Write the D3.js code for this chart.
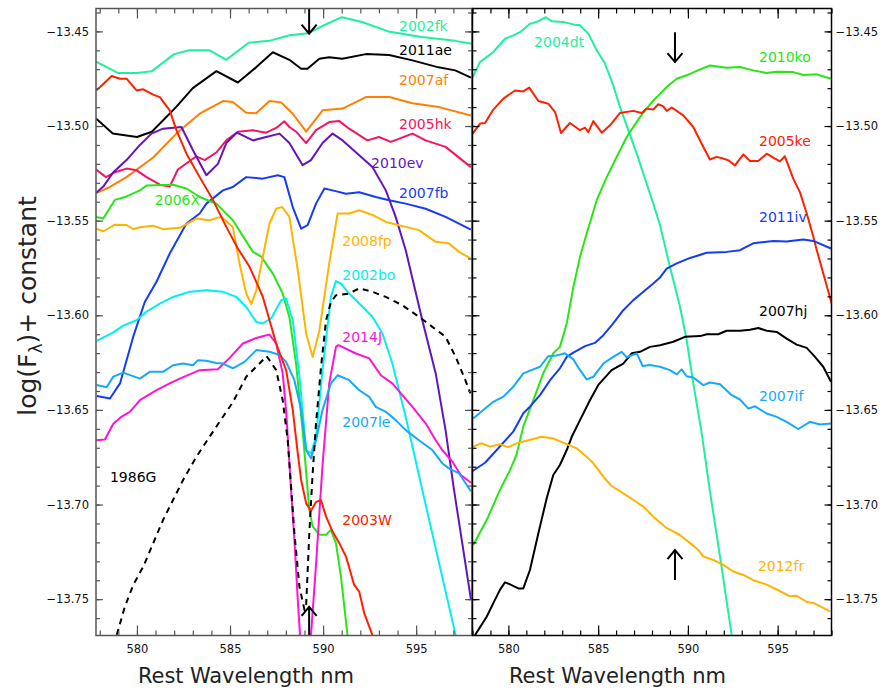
<!DOCTYPE html>
<html>
<head>
<meta charset="utf-8">
<script src="https://cdn.jsdelivr.net/npm/d3@7"></script>
<style>
  body { margin: 0; background: #fff; }
  text { font-family: "DejaVu Sans", sans-serif; }
</style>
</head>
<body>
<svg id="chart" width="881" height="689"></svg>
<script>

// spectra: [rest wavelength nm, log(F) + constant]
// left panel
var sn2002fk = [[577.8,-13.466],[579,-13.472],[580,-13.472],[580.8,-13.471],[582,-13.462],[582.8,-13.460],[583.9,-13.460],[584.8,-13.465],[586,-13.456],[587.1,-13.455],[588.2,-13.452],[589.2,-13.451],[590,-13.447],[591,-13.4425],[592.1,-13.445],[593.5,-13.450],[595.3,-13.453],[597.1,-13.455],[598,-13.4565]];
var sn2011ae = [[577.8,-13.496],[578.7,-13.504],[580,-13.5058],[580.8,-13.503],[582.1,-13.490],[583,-13.480],[584.27,-13.471],[585.42,-13.477],[586.4,-13.469],[587.3,-13.461],[588.19,-13.465],[588.82,-13.4697],[589.16,-13.4697],[589.8,-13.4645],[590.33,-13.4637],[591.03,-13.4645],[592.3,-13.462],[593.55,-13.4625],[594.8,-13.4653],[596.2,-13.469],[597.1,-13.4706],[597.94,-13.4744]];
var sn2007af = [[577.8,-13.5354],[578.55,-13.5322],[579.44,-13.527],[580.87,-13.5166],[582.12,-13.504],[583.37,-13.4935],[584.62,-13.4868],[585.15,-13.4873],[585.87,-13.493],[586.4,-13.4932],[587.12,-13.4868],[587.75,-13.4875],[588.37,-13.4935],[589.09,-13.503],[589.97,-13.4917],[591.05,-13.4908],[592.3,-13.4847],[593.55,-13.4847],[594.8,-13.488],[596.23,-13.490],[597.94,-13.4944]];
var sn2005hk = [[577.8,-13.523],[578.34,-13.527],[578.82,-13.5244],[579.44,-13.5225],[579.98,-13.5234],[580.52,-13.527],[581.23,-13.531],[581.76,-13.532],[582.2,-13.523],[583.19,-13.516],[583.64,-13.518],[584.26,-13.514],[584.8,-13.5076],[585.42,-13.503],[586.23,-13.5022],[586.94,-13.5035],[587.48,-13.501],[587.92,-13.4975],[588.19,-13.5005],[588.55,-13.503],[589.09,-13.509],[589.62,-13.5022],[590.33,-13.4979],[590.87,-13.4974],[591.4,-13.5014],[592.38,-13.5076],[593,-13.5058],[593.64,-13.5084],[594.8,-13.504],[595.51,-13.5076],[596.58,-13.511],[597.94,-13.5217]];
var sn2010ev = [[577.8,-13.5354],[578.19,-13.532],[578.73,-13.5244],[579.44,-13.518],[580.16,-13.510],[580.78,-13.504],[581.4,-13.5014],[582.39,-13.5005],[583.01,-13.5128],[583.73,-13.526],[584.35,-13.520],[584.8,-13.509],[585.37,-13.5035],[586.23,-13.5076],[586.94,-13.5058],[587.66,-13.504],[588.19,-13.509],[588.9,-13.5207],[589.35,-13.518],[589.97,-13.509],[590.51,-13.504],[591.05,-13.5076],[591.94,-13.5155],[592.65,-13.5217],[593.37,-13.534],[593.9,-13.548],[594.44,-13.5656],[595.33,-13.6026],[596.05,-13.6307],[596.58,-13.6607],[597.03,-13.692],[597.94,-13.750]];
var sn2007fb = [[577.84,-13.6427],[578.55,-13.644],[579.09,-13.636],[579.8,-13.6113],[580.42,-13.593],[581.05,-13.5823],[581.76,-13.5674],[582.66,-13.5515],[583.37,-13.5462],[583.73,-13.541],[584.62,-13.534],[585.15,-13.5322],[585.87,-13.527],[586.76,-13.5278],[587.56,-13.526],[587.92,-13.527],[588.37,-13.5428],[588.82,-13.5542],[589.17,-13.5524],[589.62,-13.541],[590.07,-13.533],[590.51,-13.534],[591.23,-13.5358],[591.94,-13.535],[592.83,-13.5375],[593.55,-13.5392],[594.44,-13.541],[595.51,-13.5437],[596.58,-13.548],[597.94,-13.5547]];
var sn2006X = [[577.8,-13.548],[578.19,-13.5489],[578.82,-13.539],[579.44,-13.5372],[580.16,-13.534],[580.52,-13.5314],[581.94,-13.531],[582.66,-13.533],[583.37,-13.5375],[584.26,-13.541],[585.15,-13.5498],[586.23,-13.5665],[586.68,-13.569],[587.3,-13.578],[587.83,-13.5885],[588.19,-13.601],[588.55,-13.6257],[588.9,-13.6607],[589.26,-13.7028],[589.44,-13.7116],[589.8,-13.716],[590.16,-13.716],[590.42,-13.7134],[590.69,-13.7204],[590.96,-13.738],[591.31,-13.769]];
var sn2008fp = [[577.8,-13.5542],[578.19,-13.5556],[578.82,-13.5521],[579.44,-13.5523],[579.8,-13.5545],[580.16,-13.5535],[580.87,-13.5527],[581.4,-13.5545],[582.3,-13.5538],[583.19,-13.5489],[583.9,-13.5498],[584.53,-13.548],[585.15,-13.5533],[585.51,-13.5726],[585.87,-13.5885],[586.14,-13.5941],[586.41,-13.5868],[586.76,-13.5692],[587.12,-13.5515],[587.48,-13.5437],[587.8,-13.5428],[588.19,-13.548],[588.64,-13.5762],[589.09,-13.6096],[589.44,-13.622],[589.8,-13.608],[590.33,-13.5726],[590.78,-13.5462],[591.4,-13.5462],[591.94,-13.5445],[592.65,-13.547],[593.37,-13.5507],[594.44,-13.5533],[595.15,-13.555],[596.05,-13.5612],[596.76,-13.562],[597.3,-13.5665],[597.94,-13.570]];
var sn2002bo = [[577.84,-13.6135],[578.73,-13.609],[579.26,-13.6055],[579.98,-13.6026],[580.52,-13.598],[581.23,-13.5938],[581.94,-13.5903],[582.83,-13.5876],[583.73,-13.5868],[584.62,-13.5876],[585.34,-13.5903],[585.87,-13.5956],[586.41,-13.6035],[586.76,-13.6043],[587.21,-13.6017],[587.75,-13.592],[588.01,-13.5911],[588.37,-13.6026],[588.73,-13.6324],[589.09,-13.6712],[589.35,-13.673],[589.62,-13.6642],[589.97,-13.629],[590.42,-13.5903],[590.69,-13.5819],[590.96,-13.5833],[591.4,-13.5885],[591.94,-13.5938],[592.65,-13.6008],[593.19,-13.6096],[593.72,-13.6255],[594.44,-13.6537],[595.33,-13.6923],[597.12,-13.769]];
var sn2014J = [[577.8,-13.666],[578.28,-13.6656],[578.73,-13.6573],[579.18,-13.6535],[579.62,-13.651],[580.16,-13.6448],[581.05,-13.6395],[581.76,-13.636],[582.3,-13.6335],[583.37,-13.629],[584.35,-13.6285],[584.98,-13.6225],[585.69,-13.6149],[586.41,-13.612],[587.12,-13.6102],[587.48,-13.6149],[587.83,-13.6307],[588.01,-13.650],[588.28,-13.6923],[588.46,-13.7187],[588.64,-13.7503],[588.76,-13.769],[589.05,-13.795],[589.35,-13.769],[589.62,-13.7318],[589.97,-13.6791],[590.33,-13.636],[590.69,-13.6167],[590.83,-13.6158],[591.76,-13.6202],[592.48,-13.6228],[593.1,-13.6317],[593.72,-13.636],[594.8,-13.6484],[595.51,-13.6571],[596.05,-13.666],[596.41,-13.6713],[596.94,-13.6773],[597.39,-13.6843],[597.94,-13.6885]];
var sn2007le = [[577.84,-13.6368],[578.37,-13.638],[578.73,-13.6324],[579.26,-13.6303],[580.16,-13.6335],[580.69,-13.6299],[581.4,-13.6299],[581.94,-13.6264],[582.48,-13.6255],[583.01,-13.6264],[583.28,-13.6237],[583.73,-13.624],[584.26,-13.6252],[584.62,-13.6255],[585.15,-13.628],[585.78,-13.6246],[586.41,-13.6184],[587.12,-13.6193],[587.66,-13.621],[588.01,-13.6246],[588.46,-13.6343],[588.82,-13.65],[589.09,-13.6712],[589.35,-13.6756],[589.62,-13.666],[589.97,-13.65],[590.42,-13.636],[590.78,-13.6317],[591.4,-13.6343],[591.94,-13.6396],[592.48,-13.6431],[592.83,-13.6484],[593.37,-13.651],[593.9,-13.6554],[594.44,-13.6607],[595.15,-13.666],[595.87,-13.6712],[596.41,-13.6783],[596.76,-13.6809],[597.3,-13.6835],[597.94,-13.693]];
var sn2003W = [[577.8,-13.4812],[578.11,-13.4786],[578.64,-13.4736],[579.09,-13.475],[579.44,-13.475],[579.98,-13.4812],[580.34,-13.4806],[580.87,-13.4834],[581.23,-13.4847],[581.76,-13.4917],[582.12,-13.5022],[582.66,-13.5146],[583.37,-13.527],[584.08,-13.539],[584.8,-13.5533],[585.42,-13.5647],[586.05,-13.5744],[586.76,-13.5902],[587.48,-13.6149],[588.01,-13.6288],[588.37,-13.65],[588.64,-13.673],[588.82,-13.687],[589.09,-13.6994],[589.35,-13.7033],[589.62,-13.6986],[589.89,-13.6977],[590.16,-13.7064],[590.51,-13.7143],[590.87,-13.7204],[591.23,-13.7275],[591.67,-13.7425],[591.94,-13.746],[592.21,-13.7574],[592.65,-13.769]];
var sn1986G = [[578.6,-13.780],[578.91,-13.769],[579.35,-13.754],[579.8,-13.7425],[580.34,-13.7328],[580.87,-13.7205],[581.4,-13.7082],[581.94,-13.6976],[582.48,-13.687],[583.19,-13.6748],[583.9,-13.6642],[584.62,-13.6536],[585.15,-13.646],[585.87,-13.6325],[586.58,-13.6255],[586.97,-13.6216],[587.48,-13.629],[587.83,-13.6448],[588.1,-13.666],[588.28,-13.6906],[588.46,-13.7152],[588.73,-13.7434],[589,-13.7557],[589.09,-13.753],[589.26,-13.7152],[589.44,-13.6835],[589.62,-13.657],[589.89,-13.6272],[590.16,-13.6026],[590.42,-13.593],[590.69,-13.5894],[591.4,-13.5885],[591.94,-13.5858],[592.65,-13.5876],[593.37,-13.5903],[594.26,-13.5947],[595.15,-13.6008],[595.87,-13.6061],[596.58,-13.6114],[597.12,-13.622],[597.57,-13.6325],[597.92,-13.6413]];

// right panel
var sn2004dt = [[578.01,-13.4741],[578.42,-13.4662],[578.79,-13.4636],[579.16,-13.4609],[579.81,-13.4539],[580.27,-13.4521],[580.65,-13.4504],[581.2,-13.446],[581.67,-13.4446],[582.09,-13.4425],[582.41,-13.4446],[583.06,-13.445],[583.62,-13.4463],[583.99,-13.4468],[584.45,-13.4512],[584.92,-13.46],[585.38,-13.467],[585.84,-13.4785],[586.22,-13.49],[586.68,-13.5022],[587.15,-13.5146],[587.7,-13.5304],[588.07,-13.541],[588.45,-13.5524],[589,-13.5744],[589.56,-13.5955],[589.93,-13.613],[590.3,-13.636],[590.77,-13.6624],[591.23,-13.6932],[591.79,-13.7275],[592.44,-13.769]];
var sn2010ko = [[578.04,-13.7214],[578.79,-13.7082],[579.53,-13.6923],[580.09,-13.6818],[580.46,-13.6735],[580.83,-13.6587],[581.39,-13.6448],[581.94,-13.6307],[582.5,-13.6201],[582.87,-13.6167],[583.25,-13.6043],[583.62,-13.585],[583.99,-13.5691],[584.36,-13.5568],[584.92,-13.5392],[585.48,-13.527],[586.03,-13.5164],[586.59,-13.5058],[587.33,-13.4953],[588.07,-13.4865],[588.45,-13.483],[588.82,-13.4794],[589.38,-13.475],[589.93,-13.4732],[590.49,-13.4709],[591.23,-13.468],[592.16,-13.4692],[592.9,-13.4688],[593.64,-13.4706],[594.39,-13.472],[594.95,-13.4713],[595.87,-13.4715],[596.43,-13.473],[597.18,-13.4727],[597.97,-13.475]];
var sn2005ke = [[578.01,-13.504],[578.42,-13.4987],[578.7,-13.4984],[579.16,-13.4913],[579.72,-13.4855],[580.37,-13.4812],[580.83,-13.4817],[581.16,-13.4797],[581.67,-13.4868],[582.22,-13.4882],[582.6,-13.4926],[582.93,-13.5037],[583.43,-13.4984],[583.99,-13.5022],[584.27,-13.5008],[584.45,-13.5032],[584.73,-13.4974],[585.2,-13.5035],[585.66,-13.4996],[586.22,-13.4931],[586.96,-13.492],[587.43,-13.4931],[587.7,-13.4908],[588.07,-13.4913],[588.35,-13.4885],[588.63,-13.4896],[588.82,-13.492],[589.1,-13.4902],[589.74,-13.4944],[590.3,-13.5005],[590.86,-13.5111],[591.23,-13.5177],[591.6,-13.5163],[591.97,-13.5172],[592.25,-13.5181],[592.62,-13.5208],[593.09,-13.515],[593.46,-13.5185],[593.92,-13.5185],[594.39,-13.5146],[594.85,-13.5172],[595.13,-13.5187],[595.4,-13.516],[595.87,-13.5278],[596.24,-13.5349],[596.62,-13.5462],[596.99,-13.5586],[597.18,-13.5656],[598.01,-13.5938]];
var sn2011iv = [[578.01,-13.6823],[578.7,-13.6779],[579.35,-13.6712],[580.27,-13.6615],[580.83,-13.6518],[581.2,-13.6483],[581.76,-13.6422],[582.32,-13.6343],[582.87,-13.628],[583.25,-13.622],[583.62,-13.6197],[584.27,-13.6163],[584.82,-13.6146],[585.29,-13.6105],[585.84,-13.6043],[586.4,-13.5973],[586.96,-13.592],[587.52,-13.5876],[588.07,-13.5832],[588.45,-13.58],[588.82,-13.5753],[589.38,-13.5726],[590.12,-13.5697],[591.05,-13.567],[592.16,-13.5665],[592.9,-13.5656],[593.64,-13.562],[594.76,-13.5607],[595.5,-13.561],[596.43,-13.560],[596.99,-13.5607],[597.97,-13.5647]];
var sn2007hj = [[577.9,-13.778],[578.14,-13.769],[578.79,-13.7593],[579.25,-13.7504],[579.53,-13.7451],[579.81,-13.7411],[580.09,-13.7422],[580.55,-13.7443],[580.83,-13.7443],[581.2,-13.7346],[581.67,-13.7152],[582.13,-13.6968],[582.5,-13.6844],[582.87,-13.6791],[583.25,-13.6712],[583.53,-13.6642],[583.99,-13.6554],[584.55,-13.6448],[585.01,-13.6368],[585.75,-13.629],[586.4,-13.6255],[586.87,-13.6201],[587.33,-13.6193],[587.89,-13.6167],[588.45,-13.6158],[589.19,-13.614],[589.84,-13.6114],[590.68,-13.611],[591.05,-13.61],[591.69,-13.61],[592.16,-13.6082],[592.9,-13.6082],[593.46,-13.6076],[593.92,-13.6067],[594.39,-13.6082],[594.95,-13.6088],[595.5,-13.6123],[596.06,-13.6155],[596.62,-13.6172],[597.08,-13.622],[597.54,-13.6272],[597.97,-13.6351]];
var sn2007if = [[578.04,-13.6545],[578.6,-13.650],[579.16,-13.6457],[579.72,-13.643],[580.27,-13.6378],[580.83,-13.6307],[581.39,-13.6286],[581.76,-13.6272],[582.22,-13.6216],[582.69,-13.6212],[583.15,-13.6201],[583.62,-13.6233],[583.99,-13.629],[584.36,-13.6339],[584.73,-13.6325],[585.29,-13.6255],[585.84,-13.622],[586.31,-13.6193],[586.59,-13.6222],[587.15,-13.6201],[587.48,-13.6268],[587.89,-13.6263],[588.45,-13.6272],[589,-13.629],[589.38,-13.6312],[589.65,-13.6286],[589.93,-13.6322],[590.3,-13.6329],[590.86,-13.6369],[591.23,-13.6355],[591.79,-13.6364],[592.44,-13.6422],[592.9,-13.6445],[593.37,-13.6493],[593.74,-13.6481],[594.39,-13.6519],[594.95,-13.6537],[595.5,-13.6563],[596.15,-13.6601],[596.8,-13.6563],[597.35,-13.6577],[597.97,-13.6572]];
var sn2012fr = [[578.04,-13.6694],[578.51,-13.6676],[578.97,-13.6694],[579.53,-13.6681],[579.99,-13.6697],[580.46,-13.6677],[581.11,-13.666],[581.86,-13.6642],[582.5,-13.6651],[583.15,-13.6677],[583.8,-13.6703],[584.45,-13.6756],[584.73,-13.6782],[585.29,-13.6853],[585.75,-13.6902],[586.4,-13.6941],[586.96,-13.6976],[587.52,-13.7011],[588.07,-13.7064],[588.82,-13.7125],[589.56,-13.7161],[590.12,-13.7204],[590.58,-13.724],[590.86,-13.7275],[591.42,-13.7293],[591.97,-13.7319],[592.53,-13.7354],[593.09,-13.7372],[593.64,-13.74],[594.39,-13.7423],[594.95,-13.7449],[595.69,-13.7485],[596.06,-13.7482],[596.62,-13.7515],[596.99,-13.752],[597.92,-13.7564]];

var leftNames  = ["2002fk","2011ae","2007af","2005hk","2010ev","2007fb","2006X","2008fp","2002bo","2014J","2007le","2003W","1986G"];
var leftSpectra = [sn2002fk, sn2011ae, sn2007af, sn2005hk, sn2010ev, sn2007fb, sn2006X, sn2008fp, sn2002bo, sn2014J, sn2007le, sn2003W, sn1986G];
var rightNames = ["2004dt","2010ko","2005ke","2011iv","2007hj","2007if","2012fr"];
var rightSpectra = [sn2004dt, sn2010ko, sn2005ke, sn2011iv, sn2007hj, sn2007if, sn2012fr];

// where each name is written, in data units (left edge, middle of text)
var leftLabelAt = [[594.08,-13.4474],[594.08,-13.4600],[594.08,-13.4759],[594.08,-13.4991],[592.58,-13.5197],[594.08,-13.5355],[580.96,-13.5392],[591.03,-13.5609],[591.03,-13.5788],[591.03,-13.6116],[591.03,-13.6564],[591.03,-13.7082],[578.55,-13.6855]];
var rightLabelAt = [[581.43,-13.4558],[593.96,-13.4637],[593.96,-13.5081],[593.96,-13.5482],[593.96,-13.5978],[593.96,-13.6427],[593.90,-13.7325]];

// Na I D markers: [wavelength, tail, tip]
var leftArrows  = [[589.25,-13.4379,-13.4512],[589.25,-13.7692,-13.7541]];
var rightArrows = [[589.28,-13.4504,-13.4662],[589.28,-13.7399,-13.7241]];

var wlMinor = d3.range(578, 599);
var wlMajor = [580, 585, 590, 595];
var yMinor = d3.range(-1376, -1343).map(function(k) { return k / 100; });
var yMajor = [-13.75, -13.70, -13.65, -13.60, -13.55, -13.50, -13.45];

var colour = {
  "2002fk": "#1ef0a0", "2004dt": "#1ef0a0",
  "2011ae": "#000000", "2007hj": "#000000", "1986G": "#000000",
  "2007af": "#ff8000",
  "2005hk": "#f5145f",
  "2010ev": "#6414be",
  "2007fb": "#143cf5", "2011iv": "#143cf5",
  "2006X": "#28e614", "2010ko": "#28e614",
  "2008fp": "#ffb400", "2012fr": "#ffb400",
  "2002bo": "#00f0f0",
  "2014J": "#ff14d2",
  "2007le": "#14aafa", "2007if": "#14aafa",
  "2003W": "#ff2000", "2005ke": "#ff2000"
};

var svg = d3.select("#chart");
// careful: "top" is taken by window, so plot edges get their own names
var plotTop = 8.5, plotBottom = 635.5;

var y = d3.scaleLinear().domain([-13.7692, -13.4379]).range([plotBottom, plotTop]);
var xLeft = d3.scaleLinear().domain([577.8, 598]).range([96, 472]);
var xRight = d3.scaleLinear().domain([578, 598]).range([472.5, 831.5]);

function drawPanel(x, names, spectra, labelAt, arrows, id, ink) {
  var x0 = x.range()[0], x1 = x.range()[1];

  svg.append("clipPath").attr("id", "clip-" + id)
    .append("rect")
    .attr("x", x0).attr("y", plotTop)
    .attr("width", x1 - x0).attr("height", plotBottom - plotTop);

  var line = d3.line()
    .x(function(d) { return x(d[0]); })
    .y(function(d) { return y(d[1]); });

  var plot = svg.append("g").attr("clip-path", "url(#clip-" + id + ")");
  plot.selectAll(".spec")
    .data(spectra)
    .enter().append("path")
    .attr("class", "spec")
    .attr("d", line)
    .attr("fill", "none")
    .attr("stroke", function(d, i) { return colour[names[i]]; })
    .attr("stroke-width", 2)
    .attr("stroke-linejoin", "round")
    .attr("stroke-dasharray", function(d, i) { return names[i] === "1986G" ? "6,5" : null; });

  svg.selectAll(".lab-" + id)
    .data(names)
    .enter().append("text")
    .attr("class", "lab-" + id)
    .attr("x", function(d, i) { return x(labelAt[i][0]); })
    .attr("y", function(d, i) { return y(labelAt[i][1]); })
    .attr("dominant-baseline", "central")
    .attr("font-size", "14px")
    .attr("fill", function(d) { return colour[d]; })
    .text(function(d) { return d; });

  // arrows
  arrows.forEach(function(a) {
    var ax = x(a[0]), tail = y(a[1]), tip = y(a[2]);
    var back = tip + (tail > tip ? 9 : -9);
    svg.append("path")
      .attr("d", "M" + ax + "," + tail + "L" + ax + "," + tip +
                 "M" + (ax - 7.5) + "," + back + "L" + ax + "," + tip + "L" + (ax + 7.5) + "," + back)
      .attr("fill", "none")
      .attr("stroke", "#000")
      .attr("stroke-width", 2);
  });

  // frame
  svg.append("rect")
    .attr("x", x0).attr("y", plotTop)
    .attr("width", x1 - x0).attr("height", plotBottom - plotTop)
    .attr("fill", "none")
    .attr("stroke", ink)
    .attr("stroke-width", 1.5);

  // x ticks, bottom with labels and top without
  var bMinor = svg.append("g").attr("transform", "translate(0," + plotBottom + ")")
    .call(d3.axisBottom(x).tickValues(wlMinor).tickSize(-5).tickFormat(""));
  var bMajor = svg.append("g").attr("transform", "translate(0," + plotBottom + ")")
    .call(d3.axisBottom(x).tickValues(wlMajor).tickSizeInner(-10).tickSizeOuter(0).tickPadding(9).tickFormat(d3.format("d")));
  var tMinor = svg.append("g").attr("transform", "translate(0," + plotTop + ")")
    .call(d3.axisTop(x).tickValues(wlMinor).tickSize(-5).tickFormat(""));
  var tMajor = svg.append("g").attr("transform", "translate(0," + plotTop + ")")
    .call(d3.axisTop(x).tickValues(wlMajor).tickSize(-10).tickFormat(""));

  // y ticks on both sides, pointing inward
  var lMinor = svg.append("g").attr("transform", "translate(" + x0 + ",0)")
    .call(d3.axisLeft(y).tickValues(yMinor).tickSize(-4).tickFormat(""));
  var lMajor = svg.append("g").attr("transform", "translate(" + x0 + ",0)")
    .call(d3.axisLeft(y).tickValues(yMajor).tickSizeInner(-7).tickSizeOuter(0).tickPadding(7)
      .tickFormat(id === "left" ? d3.format(".2f") : ""));
  var rMinor = svg.append("g").attr("transform", "translate(" + x1 + ",0)")
    .call(d3.axisRight(y).tickValues(yMinor).tickSize(-4).tickFormat(""));
  var rMajor = svg.append("g").attr("transform", "translate(" + x1 + ",0)")
    .call(d3.axisRight(y).tickValues(yMajor).tickSizeInner(-7).tickSizeOuter(0).tickPadding(4)
      .tickFormat(id === "right" ? d3.format(".2f") : ""));

  [bMinor, bMajor, tMinor, tMajor, lMinor, lMajor, rMinor, rMajor].forEach(function(g) {
    g.select(".domain").remove();
    g.selectAll(".tick line").attr("stroke", ink).attr("stroke-width", 1.2);
    g.selectAll(".tick text")
      .attr("fill", "#111")
      .style("font-family", "DejaVu Sans, sans-serif")
      .style("font-size", "11.5px");
  });
}

drawPanel(xLeft, leftNames, leftSpectra, leftLabelAt, leftArrows, "left", "#555");
drawPanel(xRight, rightNames, rightSpectra, rightLabelAt, rightArrows, "right", "#000");

// axis titles
svg.append("text")
  .attr("x", 138).attr("y", 676)
  .attr("dominant-baseline", "central")
  .attr("font-size", "21px")
  .attr("fill", "#222")
  .attr("textLength", 216).attr("lengthAdjust", "spacing")
  .text("Rest Wavelength nm");
svg.append("text")
  .attr("x", 509).attr("y", 676)
  .attr("dominant-baseline", "central")
  .attr("font-size", "21px")
  .attr("fill", "#222")
  .attr("textLength", 217).attr("lengthAdjust", "spacing")
  .text("Rest Wavelength nm");

var ytitle = svg.append("text")
  .attr("transform", "translate(36,306) rotate(-90)")
  .attr("text-anchor", "middle")
  .attr("font-size", "25px")
  .attr("fill", "#222");
ytitle.append("tspan").text("log(F");
ytitle.append("tspan").attr("font-size", "17px").attr("dy", 6).text("λ");
ytitle.append("tspan").attr("dy", -6).text(")+ constant");

</script>
</body>
</html>
